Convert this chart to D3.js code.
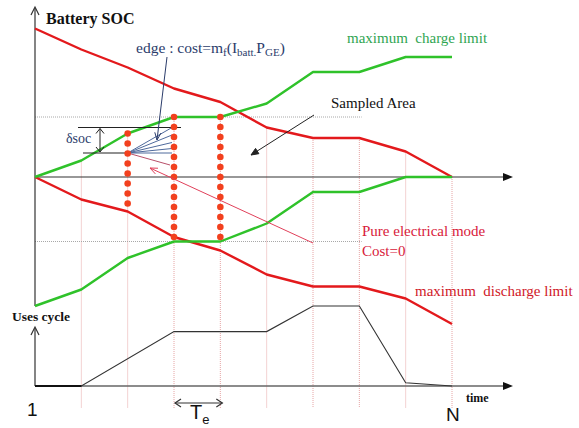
<!DOCTYPE html>
<html>
<head>
<meta charset="utf-8">
<script src="https://cdn.jsdelivr.net/npm/d3@7"></script>
<style>
  body { margin: 0; background: #fff; }
</style>
</head>
<body>
<div id="chart"></div>
<script>
// time steps 1..N (index 0..9)
const steps = d3.range(0, 10);
const upperLimit     = [99, 85, 73, 59, 50, 33, 26, 26, 17, 0];
const chargeLimit    = [0, 11, 29, 40, 40, 49, 70, 70, 80, 80];
const lowerLimit     = [-86, -75, -54, -43, -43, -31, -10, -10, 0, 0];
const dischargeLimit = [0, -15, -23, -40, -49, -65, -73, -73, -81, -98];

// uses cycle profile
const usesStep  = [0, 1, 3, 5, 6, 7, 8, 9];
const usesValue = [0, 0, 0.68, 0.68, 1, 1, 0.04, 0];

// sampled columns and the graph edges drawn from one node
const sampledSteps = [2, 3, 4];
const refLevels = [40, -43];
const edgeSource = { step: 2, soc: 16 };
const edgeTargets = [33, 28, 23, 19, 16];
const pinkTarget = 8;
const dsoc = [33, 16];

const W = 579, H = 428;
const SERIF = "'Liberation Serif', 'Times New Roman', 'DejaVu Serif', serif";
const SANS = "'Liberation Sans', Arial, sans-serif";

const svg = d3.select("#chart")
    .append("svg")
    .attr("width", W)
    .attr("height", H);

const x = d3.scaleLinear().domain([0, 9]).range([35, 452]);
const y = d3.scaleLinear().domain([-100, 100]).range([327, 27]);
const yu = d3.scaleLinear().domain([0, 1]).range([386, 306]);

const red = "#e3191c", green = "#2fc22a", navy = "#2b3c6b", pink = "#e0405a";

// vertical dotted grid at each step
svg.append("g")
    .selectAll("line")
    .data(steps.slice(1))
    .enter()
    .append("line")
    .attr("x1", d => x(d)).attr("x2", d => x(d))
    .attr("y1", d => y(Math.min(upperLimit[d], chargeLimit[d])))
    .attr("y2", 408)
    .attr("stroke", "#e6a4a4")
    .attr("stroke-width", 1)
    .attr("stroke-dasharray", "1,1");

// dotted reference levels
svg.append("g")
    .selectAll("line")
    .data(refLevels)
    .enter()
    .append("line")
    .attr("x1", x(0)).attr("x2", x(7.05))
    .attr("y1", d => y(d)).attr("y2", d => y(d))
    .attr("stroke", "#a8a8a8")
    .attr("stroke-dasharray", "1,1");

// axes
const axis = svg.append("g").attr("stroke", "#333").attr("fill", "none");
axis.append("line").attr("x1", 35).attr("x2", 35).attr("y1", 8).attr("y2", y(-86)).attr("stroke-width", 1.2);
axis.append("path").attr("d", "M31,15 L35,7 L39,15").attr("stroke-width", 1.2);
axis.append("line").attr("x1", 35).attr("x2", 506).attr("y1", y(0)).attr("y2", y(0)).attr("stroke-width", 1.2);
svg.append("path").attr("d", `M503,${y(0) - 4} L513,${y(0)} L503,${y(0) + 4} Z`).attr("fill", "#111");

axis.append("line").attr("x1", 35).attr("x2", 35).attr("y1", 328).attr("y2", yu(0)).attr("stroke-width", 1.2);
axis.append("path").attr("d", "M31,335 L35,327 L39,335").attr("stroke-width", 1.2);
axis.append("line").attr("x1", 35).attr("x2", 506).attr("y1", yu(0)).attr("y2", yu(0))
    .attr("stroke", "#666").attr("stroke-width", 1.6);
svg.append("path").attr("d", `M503,${yu(0) - 4} L513,${yu(0)} L503,${yu(0) + 4} Z`).attr("fill", "#111");

// limit curves
const socLine = arr => d3.line().x((d, i) => x(i)).y(d => y(d))(arr);
[[upperLimit, red], [dischargeLimit, red], [chargeLimit, green], [lowerLimit, green]].forEach(([arr, c]) => {
    svg.append("path")
        .attr("d", socLine(arr))
        .attr("fill", "none")
        .attr("stroke", c)
        .attr("stroke-width", 2.4)
        .attr("stroke-linejoin", "round");
});

// uses cycle line
svg.append("path")
    .datum(usesStep.map((s, i) => [s, usesValue[i]]))
    .attr("d", d3.line().x(d => x(d[0])).y(d => yu(d[1])))
    .attr("fill", "none")
    .attr("stroke", "#333")
    .attr("stroke-width", 1.1);
svg.append("line").attr("x1", x(0)).attr("x2", x(1)).attr("y1", yu(0)).attr("y2", yu(0))
    .attr("stroke", "#111").attr("stroke-width", 2);

// δsoc marks
svg.append("line").attr("x1", 78).attr("x2", 181).attr("y1", y(dsoc[0])).attr("y2", y(dsoc[0])).attr("stroke", "#222").attr("stroke-width", 1.2);
svg.append("line").attr("x1", 83).attr("x2", x(2)).attr("y1", y(dsoc[1])).attr("y2", y(dsoc[1])).attr("stroke", "#222").attr("stroke-width", 1.2);
svg.append("line").attr("x1", 100).attr("x2", 100).attr("y1", y(dsoc[0]) + 1).attr("y2", y(dsoc[1]) - 1).attr("stroke", "#222");
svg.append("path").attr("d", `M96,${y(dsoc[0]) + 6} L100,${y(dsoc[0]) + 1} L104,${y(dsoc[0]) + 6} M96,${y(dsoc[1]) - 6} L100,${y(dsoc[1]) - 1} L104,${y(dsoc[1]) - 6}`)
    .attr("fill", "none").attr("stroke", "#222");

// edges from one node
svg.append("g")
    .selectAll("line")
    .data(edgeTargets)
    .enter()
    .append("line")
    .attr("x1", x(edgeSource.step)).attr("y1", y(edgeSource.soc))
    .attr("x2", x(3) - 2).attr("y2", d => y(d))
    .attr("stroke", "#4f6a9c")
    .attr("stroke-width", 1);
svg.append("line")
    .attr("x1", x(edgeSource.step)).attr("y1", y(edgeSource.soc))
    .attr("x2", x(3) - 4).attr("y2", y(pinkTarget))
    .attr("stroke", "#b8506a");

// sampled nodes
sampledSteps.forEach(s => {
    const top = y(Math.min(upperLimit[s], chargeLimit[s]));
    const bot = y(Math.max(dischargeLimit[s], lowerLimit[s]));
    svg.append("g")
        .selectAll("circle")
        .data(d3.range(top, bot + 2, 10))
        .enter()
        .append("circle")
        .attr("cx", x(s))
        .attr("cy", d => d)
        .attr("r", 3.3)
        .attr("fill", "#f2401e");
});

// annotation arrows
function arrow(x1, y1, x2, y2, color, filled, w) {
    const a = Math.atan2(y2 - y1, x2 - x1), L = 8, s = 0.4;
    const p1 = [x2 - L * Math.cos(a - s), y2 - L * Math.sin(a - s)];
    const p2 = [x2 - L * Math.cos(a + s), y2 - L * Math.sin(a + s)];
    svg.append("line").attr("x1", x1).attr("y1", y1).attr("x2", x2).attr("y2", y2)
        .attr("stroke", color).attr("stroke-width", w);
    svg.append("path")
        .attr("d", `M${p1} L${x2},${y2} L${p2}` + (filled ? "Z" : ""))
        .attr("fill", filled ? color : "none")
        .attr("stroke", color).attr("stroke-width", w);
}
arrow(167, 57, 157, 140, navy, false, 1);
arrow(314, 115, 251, 155, "#222", true, 1);
arrow(313, 243, 150, 168, pink, false, 1);

// Te span
svg.append("line").attr("x1", x(3) + 1).attr("x2", x(4) + 2).attr("y1", 403).attr("y2", 403).attr("stroke", "#333").attr("stroke-width", 1.2);
svg.append("path").attr("d", `M${x(3) + 7},399 L${x(3) + 1},403 L${x(3) + 7},407 M${x(4) - 4},399 L${x(4) + 2},403 L${x(4) - 4},407`)
    .attr("fill", "none").attr("stroke", "#333").attr("stroke-width", 1.2);

// texts
function label(tx, ty, str, size, color, opts = {}) {
    return svg.append("text")
        .attr("x", tx).attr("y", ty)
        .attr("font-family", opts.sans ? SANS : SERIF)
        .attr("font-size", size)
        .attr("font-weight", opts.bold ? "bold" : "normal")
        .attr("fill", color)
        .style("white-space", "pre")
        .text(str);
}
label(46, 24, "Battery SOC", 16, "#111", { bold: true });
label(12, 321, "Uses cycle", 13.5, "#111", { bold: true });
label(466, 402, "time", 12, "#111", { bold: true });
label(27, 416, "1", 19, "#111", { sans: true });
label(446, 421, "N", 19, "#111", { sans: true });

const te = label(190, 419, "", 20, "#111", { sans: true });
te.append("tspan").text("T");
te.append("tspan").attr("dy", 5).attr("font-size", 13).text("e");

const edge = label(136, 53, "", 15.5, navy);
edge.append("tspan").text("edge : cost=m");
edge.append("tspan").attr("dy", 3).attr("font-size", 11).text("f");
edge.append("tspan").attr("dy", -3).text("(I");
edge.append("tspan").attr("dy", 3).attr("font-size", 11).text("batt.");
edge.append("tspan").attr("dy", -3).text("P");
edge.append("tspan").attr("dy", 3).attr("font-size", 11).text("GE");
edge.append("tspan").attr("dy", -3).text(")");

label(347, 43, "maximum  charge limit", 15, "#2fa552");
label(331, 108, "Sampled Area", 15, "#111");
label(362, 236, "Pure electrical mode", 15, "#d8203a");
label(362, 256, "Cost=0", 15, "#d8203a");
label(415, 296, "maximum  discharge limit", 15, "#d01828");
label(66, 143, "δsoc", 14, navy);
</script>
</body>
</html>
